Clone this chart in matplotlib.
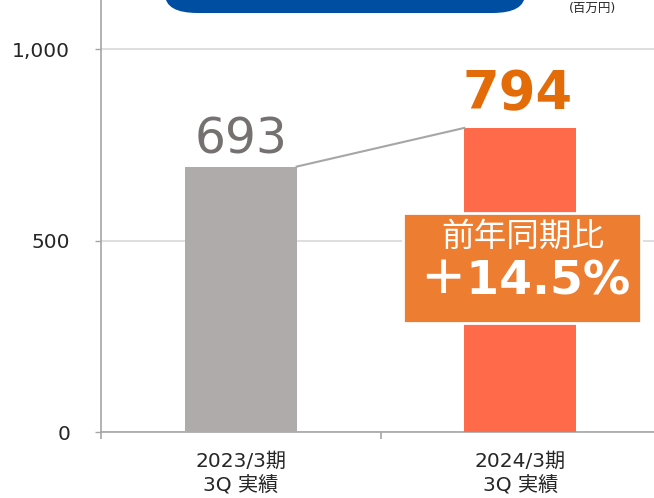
import matplotlib
matplotlib.use("Agg")
import matplotlib.pyplot as plt
from matplotlib.patches import Rectangle, FancyBboxPatch

categories = ["2023/3期\n3Q 実績", "2024/3期\n3Q 実績"]
values = [693, 794]
bar_colors = ["#AFABAB", "#FF6A4A"]
growth_title = "前年同期比"
growth_text = "＋14.5%"
unit_text = "(百万円)"
yticks = [0, 500, 1000]
ytick_labels = ["0", "500", "1,000"]

plt.rcParams["font.family"] = ["DejaVu Sans", "Noto Sans CJK JP"]

fig = plt.figure(figsize=(6.54, 4.98), dpi=100)
W, H = 654, 498
ax = fig.add_axes([101 / W, 66 / H, 559 / W, 432 / H])

x = list(range(len(values)))
ax.bar(x, values, width=0.4, color=bar_colors, zorder=3)
ax.set_xlim(-0.5, 1.5)
ax.set_ylim(0, 1128)

# connector between bar tops
ax.plot([0.2, 0.8], values, color="#A6A6A6", lw=1.5, zorder=4)

# value labels
ax.annotate(f"{values[0]}", (0, values[0]), xytext=(0, 9.5), textcoords="offset points",
            ha="center", va="baseline", fontsize=35, color="#767171")
ax.annotate(f"{values[1]}", (1, values[1]), xytext=(-2, 13.5), textcoords="offset points",
            ha="center", va="baseline", fontsize=38, fontweight="bold", color="#E36C09")

# axes styling
for s in ["top", "right"]:
    ax.spines[s].set_visible(False)
ax.spines["left"].set_color("#A6A6A6")
ax.spines["bottom"].set_color("#A6A6A6")
ax.spines["left"].set_linewidth(1.2)
ax.spines["bottom"].set_linewidth(1.2)
ax.set_yticks(yticks)
ax.set_yticklabels(ytick_labels)
ax.tick_params(axis="y", length=4.3, width=1, color="#A6A6A6", pad=18,
               labelsize=14.5, labelcolor="#262626")
ax.set_xticks(x)
ax.set_xticklabels(categories, linespacing=1.3)
ax.tick_params(axis="x", which="major", length=0, pad=14, labelsize=14.5,
               labelcolor="#262626")
ax.set_xticks([-0.5, 0.5, 1.5], minor=True)
ax.tick_params(axis="x", which="minor", length=5, width=1.2, color="#A6A6A6")
ax.yaxis.grid(True, color="#D9D9D9", lw=1.2, zorder=0)
ax.set_axisbelow(True)

# growth box
box = Rectangle((403 / W, 1 - 323 / H), 238 / W, 110 / H, transform=fig.transFigure,
                facecolor="#ED7D31", edgecolor="white", lw=2, zorder=10)
fig.add_artist(box)
fig.text(523 / W, 1 - 236 / H, growth_title, ha="center", va="center",
         fontsize=23.5, color="white", zorder=11)
fig.text(525 / W, 1 - 282 / H, growth_text, ha="center", va="center",
         fontsize=34, fontweight="bold", color="white", zorder=11)

# title banner (cut at the top edge) and unit label
banner = FancyBboxPatch((165 / W, 1 - 13 / H), 360 / W, 80 / H,
                        boxstyle="round,pad=0,rounding_size=0.05",
                        transform=fig.transFigure, facecolor="#004EA2",
                        edgecolor="none", mutation_aspect=H / W, clip_on=False)
fig.add_artist(banner)
fig.text(592 / W, 1 - 2 / H, unit_text, ha="center", va="top",
         fontsize=9, color="#262626")

fig.savefig("out.png", dpi=100)
